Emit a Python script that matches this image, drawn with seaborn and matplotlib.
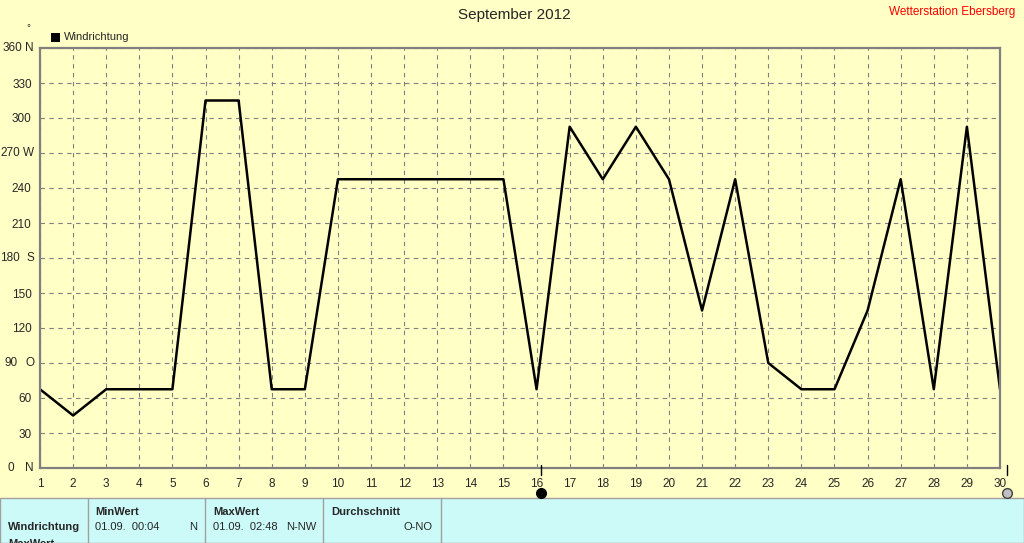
import pandas as pd
import matplotlib.pyplot as plt
import matplotlib.transforms as mtransforms
import seaborn as sns

# Daten (Windrichtung in Grad, Tagesmittel)
tage = list(range(1, 31))
windrichtung = [67.5, 45, 67.5, 67.5, 67.5, 315, 315, 67.5, 67.5, 247.5,
                247.5, 247.5, 247.5, 247.5, 247.5, 67.5, 292.5, 247.5, 292.5, 247.5,
                135, 247.5, 90, 67.5, 67.5, 135, 247.5, 67.5, 292.5, 67.5]
y_ticks = [0, 30, 60, 90, 120, 150, 180, 210, 240, 270, 300, 330, 360]
himmelsrichtung = {0: "N", 90: "O", 180: "S", 270: "W", 360: "N"}

tabelle_kopf = ["MinWert", "MaxWert", "Durchschnitt"]
tabelle_zeit = ["01.09.  00:04", "01.09.  02:48", ""]
tabelle_wert = ["N", "N-NW", "O-NO"]

df = pd.DataFrame({"Tag": tage, "Windrichtung": windrichtung})

sns.set_style("white")
plt.rcParams['font.family'] = ['Liberation Sans', 'DejaVu Sans']

bg = "#FFFFC6"
fig = plt.figure(figsize=(10.24, 5.43), dpi=100, facecolor=bg)
W, H = 1024, 543
ax = fig.add_axes([40 / W, 1 - 468 / H, 960 / W, 420 / H])
ax.set_facecolor(bg)

sns.lineplot(data=df, x="Tag", y="Windrichtung", color="black", linewidth=1.8, ax=ax)

ax.set_xlim(1, 30)
ax.set_ylim(0, 360)
ax.set_xticks(tage)
ax.set_yticks(y_ticks)
# Zahlen mit Himmelsrichtung werden separat gesetzt
ax.set_yticklabels(["" if v in himmelsrichtung else str(v) for v in y_ticks])
ax.tick_params(axis="both", labelsize=8.5, length=4, width=1, color="#808080", pad=2)
ax.tick_params(axis="x", pad=3)
ax.set_xlabel("")
ax.set_ylabel("")
ax.grid(True, color="#808080", linestyle=(0, (4, 4)), linewidth=0.8)
for s in ax.spines.values():
    s.set_color("#808080")
    s.set_linewidth(1.6)

trans = mtransforms.blended_transform_factory(fig.transFigure, ax.transData)
zahl_rechts = {0: 14, 90: 18, 180: 20, 270: 20, 360: 22}
for v, r in himmelsrichtung.items():
    fig.text(34 / W, v, r, transform=trans, ha="right", va="center", fontsize=8.5)
    fig.text(zahl_rechts[v] / W, v, str(v), transform=trans, ha="right", va="center", fontsize=8.5)

# Titel und Beschriftungen
fig.text(514 / W, 1 - 15 / H, "September 2012", ha="center", va="center", fontsize=11)
fig.text(1015 / W, 1 - 12 / H, "Wetterstation Ebersberg", ha="right", va="center", fontsize=8.5, color="red")
fig.text(28 / W, 1 - 28 / H, "°", ha="center", va="center", fontsize=7)
fig.patches.append(plt.Rectangle((51 / W, 1 - 42 / H), 9 / W, 9 / H, transform=fig.transFigure,
                                 facecolor="black", edgecolor="none"))
fig.text(64 / W, 1 - 37.5 / H, "Windrichtung", ha="left", va="center", fontsize=8)

# Schieberegler-Markierungen
fig.add_artist(plt.Line2D([541 / W, 541 / W], [1 - 465 / H, 1 - 475 / H], color="black", lw=1))
fig.add_artist(plt.Line2D([1007 / W, 1007 / W], [1 - 465 / H, 1 - 475 / H], color="black", lw=1))
fig.add_artist(plt.Line2D([541 / W], [1 - 493 / H], marker="o", markersize=7, color="black", lw=0))
fig.add_artist(plt.Line2D([1007 / W], [1 - 493 / H], marker="o", markersize=7, color="#C0C0C0",
                          markeredgecolor="#404040", lw=0))

# Tabelle unten
fig.patches.append(plt.Rectangle((0, 0), 1, 45 / H, transform=fig.transFigure,
                                 facecolor="#CCFAF8", edgecolor="#A0A0A0", lw=1))
for x in [88, 205, 323, 441]:
    fig.add_artist(plt.Line2D([x / W, x / W], [0, 45 / H], color="#A0A0A0", lw=1))
fig.text(8 / W, 1 - 527 / H, "Windrichtung", ha="left", va="center", fontsize=8, fontweight="bold")
fig.text(8 / W, 1 - 544 / H, "MaxWert", ha="left", va="center", fontsize=8, fontweight="bold")
spalten = [(95, 197), (213, 316), (331, 433)]
for (xl, xr), kopf, zeit, wert in zip(spalten, tabelle_kopf, tabelle_zeit, tabelle_wert):
    fig.text(xl / W, 1 - 512 / H, kopf, ha="left", va="center", fontsize=8, fontweight="bold")
    fig.text(xl / W, 1 - 527 / H, zeit, ha="left", va="center", fontsize=8)
    fig.text(xr / W, 1 - 527 / H, wert, ha="right", va="center", fontsize=8)

fig.savefig("out.png", dpi=100, facecolor=bg)
